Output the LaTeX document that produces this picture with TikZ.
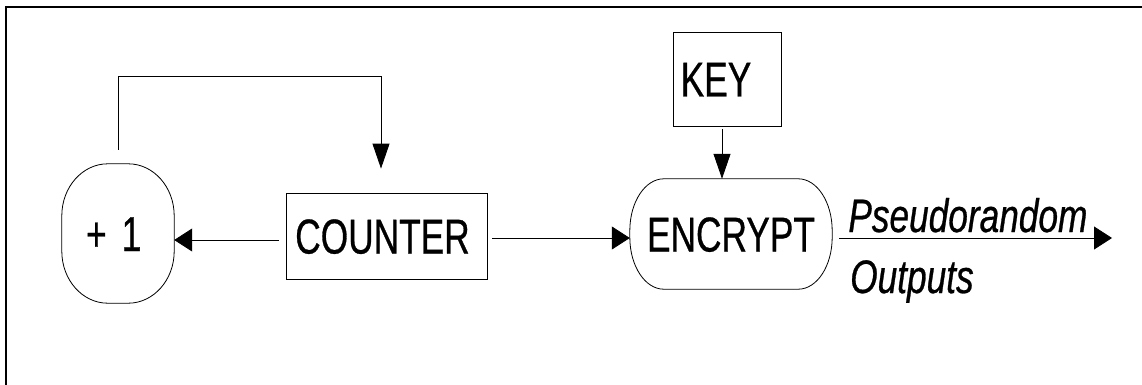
\documentclass[tikz,border=0pt]{standalone}
\usepackage{fontspec}
\setmainfont{Liberation Sans}[FakeStretch=0.72,FakeBold=0.6]
\newfontfamily\outfont{Liberation Sans}[FakeStretch=0.75,FakeBold=0.6]
\usetikzlibrary{arrows.meta,calc}
\newcommand\ovalpath[3]{%
  \draw[line width=0.8pt] ([xshift=#2]#1.north west) -- ([xshift=-#2]#1.north east)
    arc[start angle=90,end angle=0,x radius=#2,y radius=#3]
    -- ([yshift=#3]#1.south east)
    arc[start angle=0,end angle=-90,x radius=#2,y radius=#3]
    -- ([xshift=#2]#1.south west)
    arc[start angle=270,end angle=180,x radius=#2,y radius=#3]
    -- ([yshift=-#3]#1.north west)
    arc[start angle=180,end angle=90,x radius=#2,y radius=#3] -- cycle;}
\tikzset{
  txt/.style={font=\fontsize{49}{52}\selectfont, inner sep=0pt, text height=35pt, text depth=0pt},
  boxnode/.style={txt, draw, line width=0.8pt},
  ovalnode/.style={txt},
  conn/.style={line width=0.8pt},
  harrow/.style={conn, -{Triangle[length=18pt,width=23pt]}},
  varrow/.style={conn, -{Triangle[length=25pt,width=17pt]}},
  outlbl/.style={font=\outfont\itshape\fontsize{47}{50}\selectfont, inner sep=0pt}
}
\begin{document}
\begin{tikzpicture}[x=1pt,y=-1pt]
\useasboundingbox (0,0) rectangle (1142,385);
\draw[line width=1.2pt] (6,385) -- (6,7) -- (1142,7);

\node[ovalnode, minimum width=112pt, minimum height=139pt] (plus) at (118,233.5) {+\hspace*{15pt}1\hspace*{8.5pt}};
\ovalpath{plus}{46pt}{52pt}
\node[boxnode, minimum width=201pt, minimum height=86pt] (counter) at (386.5,236) {COUNTER\hspace*{8pt}};
\node[ovalnode, minimum width=202pt, minimum height=110pt] (encrypt) at (731,234) {ENCRYPT};
\ovalpath{encrypt}{34pt}{52pt}
\node[boxnode, minimum width=108pt, minimum height=94pt] (key) at (727,79) {KEY\hspace*{22pt}};

\coordinate (fb) at (381,76);
\coordinate (out) at (1112,238);

\draw[varrow] ([yshift=14pt]plus.north) |- (fb) -- ([shift={(-5.5pt,24pt)}]counter.north);
\draw[harrow, shorten <=7pt] (counter.west |- 0,240) -- (plus.east |- 0,240);
\draw[harrow, shorten <=5pt] (counter.east |- 0,238) -- (encrypt.west |- 0,238);
\draw[varrow] ([xshift=-5pt,yshift=-3pt]key.south) -- ([xshift=-9pt]encrypt.north);
\draw[harrow, shorten <=7pt] (encrypt.east |- out) -- (out)
  node[outlbl, pos=0.485, anchor=base, yshift=6pt] (pr) {Pseudorandom};
\node[outlbl, anchor=base west] (outp) at (850,293) {Outputs};
\end{tikzpicture}
\end{document}
